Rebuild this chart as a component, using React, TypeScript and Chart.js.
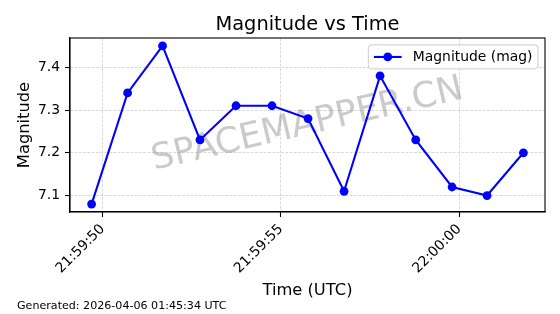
import React, { useEffect, useRef } from "react";
import { Chart, registerables } from "chart.js";

Chart.register(...registerables);

// ---- data ----
const timeLabels: string[] = [
  "21:59:49.69", "21:59:50.70", "21:59:51.68", "21:59:52.73", "21:59:53.74",
  "21:59:54.75", "21:59:55.76", "21:59:56.77", "21:59:57.78", "21:59:58.78",
  "21:59:59.80", "22:00:00.78", "22:00:01.80",
];
const magnitudes: number[] = [7.08, 7.34, 7.45, 7.23, 7.31, 7.31, 7.28, 7.11, 7.38, 7.23, 7.12, 7.10, 7.20];
const yTicks: number[] = [7.1, 7.2, 7.3, 7.4];
const xTickStepSeconds = 5;
const seriesLabel = "Magnitude (mag)";
const titleText = "Magnitude vs Time";
const xAxisTitle = "Time (UTC)";
const yAxisTitle = "Magnitude";
const footerText = "Generated: 2026-04-06 01:45:34 UTC";
const watermarkText = "SPACEMAPPER.CN";

const FONT = '"DejaVu Sans", "Liberation Sans", sans-serif';

function parseTime(s: string): number {
  const [h, m, sec] = s.split(":");
  return Number(h) * 3600 + Number(m) * 60 + Number(sec);
}
function fmtTime(v: number): string {
  let t = Math.round(v);
  const h = Math.floor(t / 3600) % 24;
  const m = Math.floor((t % 3600) / 60);
  const s = t % 60;
  const p = (n: number) => String(n).padStart(2, "0");
  return `${p(h)}:${p(m)}:${p(s)}`;
}

const decorPlugin = {
  id: "decor",
  beforeDatasetsDraw(chart: any) {
    const { ctx, chartArea: a } = chart;
    ctx.save();
    ctx.translate((a.left + a.right) / 2, (a.top + a.bottom) / 2);
    ctx.rotate((-13 * Math.PI) / 180);
    ctx.font = `35.5px ${FONT}`;
    ctx.fillStyle = "rgba(128,128,128,0.42)";
    ctx.textAlign = "center";
    ctx.textBaseline = "middle";
    ctx.fillText(watermarkText, 0, 0);
    ctx.restore();
  },
  afterDraw(chart: any) {
    const { ctx, chartArea: a } = chart;
    const cx = (a.left + a.right) / 2;
    const cy = (a.top + a.bottom) / 2;
    ctx.save();
    // spines
    ctx.strokeStyle = "#000";
    ctx.lineWidth = 1.1;
    ctx.strokeRect(a.left, a.top, a.right - a.left, a.bottom - a.top);

    // title
    ctx.fillStyle = "#000";
    ctx.font = `19.4px ${FONT}`;
    ctx.textAlign = "center";
    ctx.textBaseline = "alphabetic";
    ctx.fillText(titleText, cx, 30);

    // x axis title
    ctx.font = `16.3px ${FONT}`;
    ctx.fillText(xAxisTitle, cx, 295);

    // y axis title
    ctx.save();
    ctx.translate(29, cy);
    ctx.rotate(-Math.PI / 2);
    ctx.fillText(yAxisTitle, 0, 0);
    ctx.restore();

    // footer
    ctx.font = `11.1px ${FONT}`;
    ctx.textAlign = "left";
    ctx.fillText(footerText, 17, 309);

    // legend
    const fs = 13.9;
    ctx.font = `${fs}px ${FONT}`;
    const tw = ctx.measureText(seriesLabel).width;
    const pad = 0.4 * fs;
    const handle = 2.0 * fs;
    const gap = 0.8 * fs;
    const bw = pad + handle + gap + tw + pad;
    const bx = a.right - 0.5 * fs - bw;
    const by = a.top + 0.5 * fs;
    const bh = 24;
    const r = 3;
    ctx.beginPath();
    ctx.moveTo(bx + r, by);
    ctx.lineTo(bx + bw - r, by);
    ctx.arcTo(bx + bw, by, bx + bw, by + r, r);
    ctx.lineTo(bx + bw, by + bh - r);
    ctx.arcTo(bx + bw, by + bh, bx + bw - r, by + bh, r);
    ctx.lineTo(bx + r, by + bh);
    ctx.arcTo(bx, by + bh, bx, by + bh - r, r);
    ctx.lineTo(bx, by + r);
    ctx.arcTo(bx, by, bx + r, by, r);
    ctx.closePath();
    ctx.fillStyle = "rgba(255,255,255,0.8)";
    ctx.fill();
    ctx.strokeStyle = "#cccccc";
    ctx.lineWidth = 1;
    ctx.stroke();
    const ly = by + bh / 2;
    const lx0 = bx + pad;
    ctx.strokeStyle = "#0000ff";
    ctx.lineWidth = 2.08;
    ctx.beginPath();
    ctx.moveTo(lx0, ly);
    ctx.lineTo(lx0 + handle, ly);
    ctx.stroke();
    ctx.fillStyle = "#0000ff";
    ctx.beginPath();
    ctx.arc(lx0 + handle / 2, ly, 4.4, 0, Math.PI * 2);
    ctx.fill();
    ctx.fillStyle = "#000";
    ctx.textBaseline = "middle";
    ctx.textAlign = "left";
    ctx.fillText(seriesLabel, lx0 + handle + gap, ly + 0.5);
    ctx.restore();
  },
};

export default function App() {
  const ref = useRef<HTMLCanvasElement | null>(null);
  useEffect(() => {
    if (!ref.current) return;
    const xs = timeLabels.map(parseTime);
    const xMinD = Math.min(...xs);
    const xMaxD = Math.max(...xs);
    const xm = (xMaxD - xMinD) * 0.05;
    const yMinD = Math.min(...magnitudes);
    const yMaxD = Math.max(...magnitudes);
    const ym = (yMaxD - yMinD) * 0.05;
    const tickFont = { family: FONT, size: 13.9 };
    const chart = new Chart(ref.current, {
      type: "line",
      data: {
        datasets: [
          {
            label: seriesLabel,
            data: xs.map((x, i) => ({ x, y: magnitudes[i] })),
            borderColor: "#0000ff",
            backgroundColor: "#0000ff",
            borderWidth: 2.08,
            pointRadius: 4.4,
            pointBorderWidth: 0,
            pointBackgroundColor: "#0000ff",
            tension: 0,
            fill: false,
          },
        ],
      },
      options: {
        animation: false,
        responsive: false,
        devicePixelRatio: 1,
        layout: { padding: { left: 0, top: 38, right: 15, bottom: 0 } },
        plugins: {
          legend: { display: false },
          title: { display: false },
          tooltip: { enabled: false },
        },
        scales: {
          x: {
            type: "linear",
            min: xMinD - xm,
            max: xMaxD + xm,
            afterFit: (s: any) => {
              s.height = 102;
            },
            ticks: {
              stepSize: xTickStepSeconds,
              includeBounds: false,
              minRotation: 45,
              maxRotation: 45,
              padding: 4,
              color: "#000",
              font: tickFont,
              callback: (v: any) => fmtTime(Number(v)),
            },
            grid: {
              color: "rgba(176,176,176,0.6)",
              lineWidth: 0.8,
              tickLength: 5,
              tickColor: "#000",
              tickWidth: 1.1,
            },
            border: { display: true, color: "#000", width: 1.1, dash: [3, 1.3] },
          },
          y: {
            type: "linear",
            min: yMinD - ym,
            max: yMaxD + ym,
            afterFit: (s: any) => {
              s.width = 70;
            },
            afterBuildTicks: (s: any) => {
              s.ticks = yTicks.map((v) => ({ value: v }));
            },
            ticks: {
              padding: 5,
              color: "#000",
              font: tickFont,
              callback: (v: any) => Number(v).toFixed(1),
            },
            grid: {
              color: "rgba(176,176,176,0.6)",
              lineWidth: 0.8,
              tickLength: 5,
              tickColor: "#000",
              tickWidth: 1.1,
            },
            border: { display: true, color: "#000", width: 1.1, dash: [3, 1.3] },
          },
        },
      },
      plugins: [decorPlugin],
    });
    return () => chart.destroy();
  }, []);
  return (
    <div style={{ position: "absolute", left: 0, top: 0, width: 560, height: 314, background: "#fff" }}>
      <canvas ref={ref} width={560} height={314} style={{ width: 560, height: 314, display: "block" }} />
    </div>
  );
}
